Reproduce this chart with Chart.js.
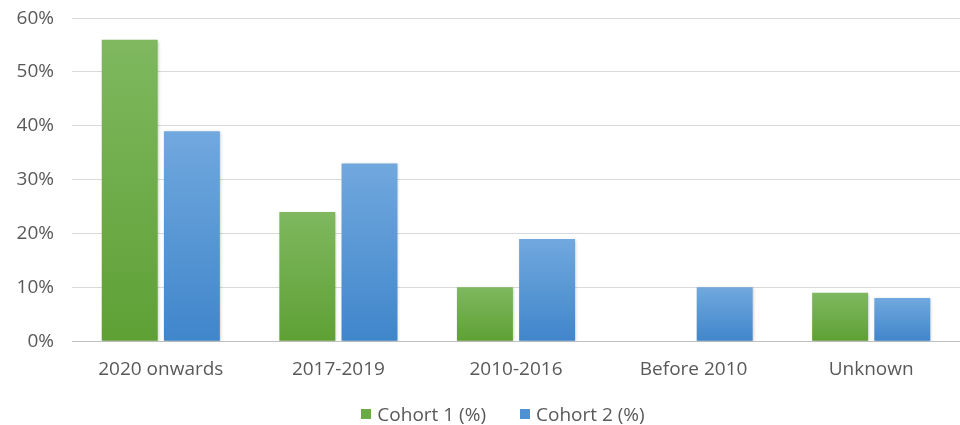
<!DOCTYPE html>
<html>
<head>
<meta charset="utf-8">
<script src="https://cdn.jsdelivr.net/npm/chart.js@4/dist/chart.umd.min.js"></script>
<style>
  html, body { margin: 0; padding: 0; background: #fff; }
  #wrap { width: 960px; height: 425px; position: relative; }
  #legend {
    position: absolute; left: 0; right: 0; top: 402px; height: 24px;
    display: flex; justify-content: center; align-items: center; gap: 34px;
    font: 19px 'Open Sans', 'Noto Sans', sans-serif; color: #595959;
    padding-left: 46px;
  }
  #legend span.item { display: flex; align-items: center; }
  #legend i { display: inline-block; width: 10px; height: 10px; margin-right: 6px; }
</style>
</head>
<body>
<div id="wrap">
  <canvas id="chart"></canvas>
  <div id="legend"></div>
</div>
<script>
/* ---------- data ---------- */
const CATEGORIES = ['2020 onwards', '2017-2019', '2010-2016', 'Before 2010', 'Unknown'];
const COHORT1 = [56, 24, 10, 0, 9];
const COHORT2 = [39, 33, 19, 10, 8];
const Y_TICKS = [0, 10, 20, 30, 40, 50, 60];
const SERIES_NAMES = ['Cohort 1 (%)', 'Cohort 2 (%)'];

const TEXT = '#595959';
const FONT = "'Open Sans', 'Noto Sans', sans-serif";
const LEGEND_COLORS = ['#6aab44', '#4f92d3'];

// gradient per bar: lighter at the bar's own top
function grad(top, bottom) {
  return ctx => {
    const { chart } = ctx;
    const y = chart.scales.y;
    if (!chart.chartArea || !y || ctx.raw == null) return bottom;
    const yTop = y.getPixelForValue(ctx.raw);
    const yBase = y.getPixelForValue(0);
    if (!(yBase - yTop > 1)) return bottom;
    const g = chart.ctx.createLinearGradient(0, yTop, 0, yBase);
    g.addColorStop(0, top);
    g.addColorStop(1, bottom);
    return g;
  };
}

// soft shadow behind bars
const barShadow = {
  id: 'barShadow',
  beforeDatasetsDraw(chart) {
    chart.ctx.save();
    chart.ctx.shadowColor = 'rgba(0,0,0,0.22)';
    chart.ctx.shadowBlur = 3;
    chart.ctx.shadowOffsetX = 1;
    chart.ctx.shadowOffsetY = 1;
  },
  afterDatasetsDraw(chart) { chart.ctx.restore(); }
};

const chart = new Chart(document.getElementById('chart'), {
  type: 'bar',
  data: {
    labels: CATEGORIES,
    datasets: [
      { label: SERIES_NAMES[0], data: COHORT1, backgroundColor: grad('#7fb85f', '#5fa035') },
      { label: SERIES_NAMES[1], data: COHORT2, backgroundColor: grad('#71a8de', '#4086cb') }
    ]
  },
  options: {
    responsive: true,
    maintainAspectRatio: false,
    animation: false,
    datasets: { bar: { categoryPercentage: 0.7, barPercentage: 0.9 } },
    layout: { padding: 0 },
    plugins: {
      legend: { display: false },
      tooltip: { enabled: false }
    },
    scales: {
      x: {
        grid: { display: false },
        border: { color: '#bfbfbf' },
        ticks: { color: TEXT, font: { size: 19, family: FONT }, padding: 9 },
        afterFit: axis => { axis.height += 35; }   // room for the legend below
      },
      y: {
        min: 0, max: 60,
        afterBuildTicks: axis => { axis.ticks = Y_TICKS.map(v => ({ value: v })); },
        afterFit: axis => { axis.width = 72; },
        grid: { color: '#d9d9d9', drawTicks: false },
        border: { display: false },
        ticks: {
          autoSkip: false,
          color: TEXT,
          // tiny lineHeight keeps the top overhang small so the plot starts near the top
          font: { size: 19, family: FONT, lineHeight: 0.01 },
          padding: 18,
          callback: v => v + '%'
        }
      }
    }
  },
  plugins: [barShadow]
});

// html legend
document.getElementById('legend').innerHTML = chart.data.datasets.map((ds, i) =>
  `<span class="item"><i style="background:${LEGEND_COLORS[i]}"></i>${ds.label}</span>`
).join('');
</script>
</body>
</html>
